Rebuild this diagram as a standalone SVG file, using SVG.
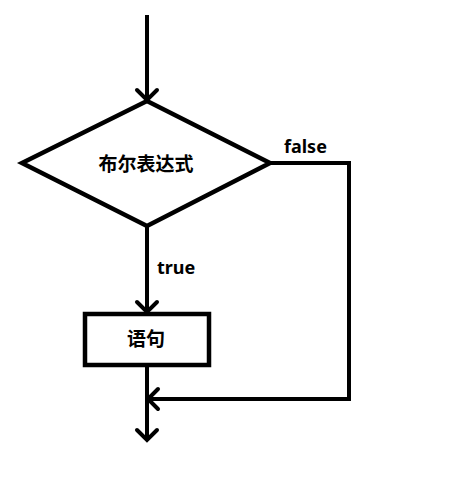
<svg xmlns="http://www.w3.org/2000/svg" width="450" height="489" viewBox="0 0 450 489">
<style>
.ln{fill:none;stroke:#000;stroke-width:4;stroke-linejoin:miter}
.shape{fill:#fff;stroke:#000;stroke-width:4.5}
.t{font-family:"Noto Sans","Noto Sans CJK SC",sans-serif;font-weight:bold;fill:#000}
</style>
<defs>
<marker id="arr" markerUnits="userSpaceOnUse" markerWidth="30" markerHeight="30" viewBox="-15 -15 30 30" refX="0" refY="0" orient="auto" overflow="visible">
<path d="M-10,-10 L0,0 L-10,10" fill="none" stroke="#000" stroke-width="4" stroke-linecap="round"/>
</marker>
</defs>
<rect width="450" height="489" fill="#fff"/>
<g id="connectors">
<path class="ln" d="M147,15 V100" marker-end="url(#arr)"/>
<path class="ln" d="M270,163 H349 V399 H148" marker-end="url(#arr)"/>
<path class="ln" d="M147,226 V312" marker-end="url(#arr)"/>
<path class="ln" d="M147,366 V440" marker-end="url(#arr)"/>
<text class="t" x="284" y="153" font-size="18">false</text>
<text class="t" x="157" y="274" font-size="18">true</text>
</g>
<g id="cond">
<polygon class="shape" points="147,101 270,163 147,226 22,163"/>
<text class="t" x="146" y="171" font-size="19" text-anchor="middle">布尔表达式</text>
</g>
<g id="stmt">
<rect class="shape" x="85" y="314" width="124" height="51"/>
<text class="t" x="146" y="346" font-size="19" text-anchor="middle">语句</text>
</g>
</svg>
